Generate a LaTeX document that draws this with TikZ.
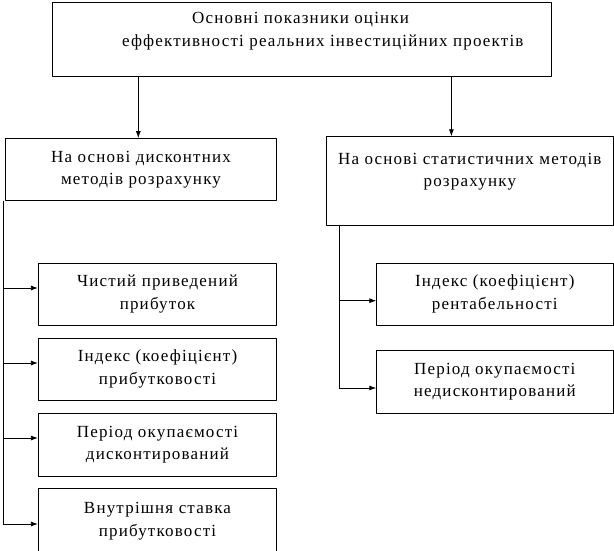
\documentclass[tikz,border=0pt]{standalone}
\usepackage{fontspec}
\setmainfont[LetterSpace=7]{Liberation Serif}
\usetikzlibrary{arrows.meta}
\begin{document}
\begin{tikzpicture}[x=1pt,y=-1pt,line join=round,line width=0.8pt,font=\fontsize{17}{22.5}\selectfont,>={Latex[length=7pt,width=5pt]},
	box/.style={draw,inner sep=0pt,align=center,minimum height=62pt}]
	\useasboundingbox (0,0) rectangle (614,551);
	% top
	\node[box,minimum width=499pt,minimum height=74.5pt] (main) at (301.5,39.25) {};
	\node[anchor=north west,align=left,inner sep=0pt] (maintext) at (121.7,12) {\hspace*{70pt}Основні показники оцінки\\еффективності реальних інвестиційних проектів};
	% two groups
	\node[box,minimum width=271.5pt] (disc) at (141,169.5) {На основі дисконтних\\методів розрахунку};
	\node[box,minimum width=286.3pt,minimum height=89pt] (stat) at (469.8,181.2) {На основі статистичних методів\\розрахунку\\ \mbox{}};
	\draw[->] (main.south -| 138.3,0) -- (disc.north -| 138.3,0);
	\draw[->] (main.south -| 451.4,0) -- (stat.north -| 451.4,0);
	% left column
	\node[box,minimum width=238.4pt] (npv) at (157.5,294) {Чистий приведений\\прибуток};
	\node[box,minimum width=238.4pt] (pi) at (157.5,369) {Індекс (коефіцієнт)\\прибутковості};
	\node[box,minimum width=238.4pt,minimum height=63.7pt] (dpp) at (157.5,444.8) {Період окупаємості\\дисконтирований};
	\node[box,minimum width=238.4pt,minimum height=66pt] (irr) at (157.5,521) {Внутрішня ставка\\прибутковості};
	\draw (disc.south west -| 3,0) -- (3,524);
	\foreach \y/\n in {288/npv,363/pi,438/dpp,524/irr}
		\draw[->] (3,\y) -- (\n.west |- 0,\y);
	% right column
	\node[box,minimum width=236.3pt] (ri) at (494.8,294) {Індекс (коефіцієнт)\\рентабельності};
	\node[box,minimum width=236.3pt,minimum height=62.3pt] (pp) at (494.8,381.8) {Період окупаємості\\недисконтирований};
	\draw (stat.south west -| 339,0) -- (339,388);
	\foreach \y/\n in {300.7/ri,388/pp}
		\draw[->] (339,\y) -- (\n.west |- 0,\y);
\end{tikzpicture}
\end{document}
